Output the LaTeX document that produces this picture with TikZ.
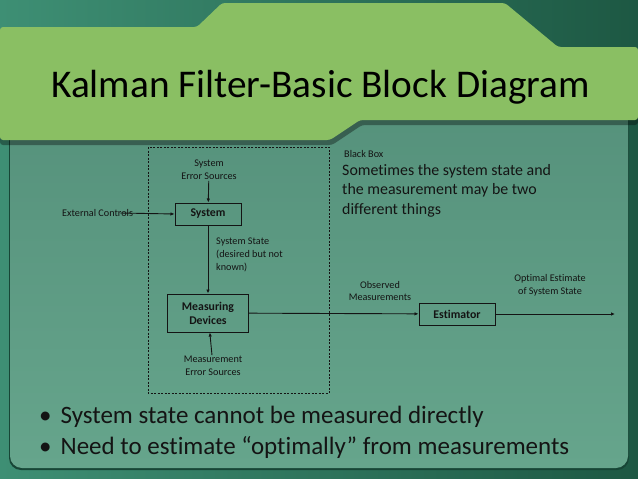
\documentclass[tikz,border=0pt]{standalone}
\usepackage{fontspec}
\setmainfont{Carlito}[Ligatures={NoCommon}]
\usetikzlibrary{arrows.meta}

\definecolor{outergreen}{HTML}{1D5843}
\definecolor{topteal}{HTML}{3E8F74}
\definecolor{panellight}{HTML}{66A58C}
\definecolor{paneldark}{HTML}{55917B}
\definecolor{bannergreen}{HTML}{8ABF63}
\definecolor{inkdark}{HTML}{141414}

\tikzset{
    block/.style={draw=inkdark, line width=1pt, inner sep=0pt, align=center,
        font=\fontsize{11.8}{14}\selectfont\bfseries, text=inkdark},
    smalltext/.style={font=\fontsize{10.2}{12.8}\selectfont, text=inkdark, inner sep=1pt},
    bodytext/.style={font=\fontsize{15.9}{19.5}\selectfont, text=inkdark, inner sep=0pt, align=left},
    pointtext/.style={font=\fontsize{25}{30}\selectfont, text=inkdark, inner sep=0pt},
    flow/.style={draw=inkdark, line width=0.9pt, -{Latex[length=4pt,width=3.5pt]}},
}

\begin{document}
\begin{tikzpicture}[x=1pt, y=-1pt]
    \useasboundingbox (0,0) rectangle (638,479);

    % Background and panel
    \shade[left color=topteal, right color=outergreen] (0,0) rectangle (638,479);
    \fill[outergreen!80!black, rounded corners=12pt] (9,100) rectangle (629,470);
    \shade[top color=paneldark, bottom color=panellight, rounded corners=12pt] (10,100) rectangle (628,468);

    % Title banner
    \fill[black, opacity=0.35, rounded corners=3pt] (0,31) -- (197,31) -- (222,7) -- (505,7) -- (558,51)
        -- (638,51) -- (638,125) -- (362,125) -- (332,145) -- (0,145) -- cycle;
    \fill[bannergreen, rounded corners=3pt] (0,27) -- (197,27) -- (222,3) -- (505,3) -- (558,47)
        -- (638,47) -- (638,120) -- (360,120) -- (330,140) -- (0,140) -- cycle;
    \node[anchor=base west, inner sep=0pt, font=\fontsize{39.3}{44}\selectfont, text=black] (title) at (51,97)
        {Kalman Filter-Basic Block Diagram};

    % Black box
    \draw[inkdark, line width=0.7pt, dash pattern=on 2pt off 1.5pt] (148,147) rectangle (329,393);
    \node[smalltext, anchor=west] (blackbox) at (343,154) {Black Box};
    \node[bodytext, anchor=north west] (note) at (342,164)
        {Sometimes the system state and\\the measurement may be two\\different things};

    % Draw nodes
    \node[block, minimum width=66pt, minimum height=22pt] (system) at (208,214) {System};
    \node[block, minimum width=81pt, minimum height=38pt] (measure) at (208,313) {Measuring\\Devices};
    \node[block, minimum width=76pt, minimum height=22pt] (estimator) at (457,314) {Estimator};

    \node[smalltext, align=center] (syserr) at (209,170) {System\\Error Sources};
    \node[smalltext, anchor=west] (extctrl) at (61,213) {External Controls};
    \node[smalltext, anchor=north west, align=left] (sysstate) at (215,237) {System State\\(desired but not\\known)};
    \node[smalltext, align=center] (measerr) at (213,366) {Measurement\\Error Sources};
    \node[smalltext, align=center] (observed) at (380,291) {Observed\\Measurements};
    \node[smalltext, align=center] (optimal) at (550,285) {Optimal Estimate\\of System State};
    \coordinate (output) at (615,314);

    % Draw connections
    \draw[flow] (syserr) -- (system);
    \draw[flow] ([xshift=-14pt]extctrl.east) -- (system.west);
    \draw[flow] (system) -- (measure);
    \draw[flow] (measerr) -- (measure);
    \draw[flow] (measure) -- (estimator);
    \draw[flow] (estimator) -- (output);

    % Bullets
    \node[pointtext, anchor=base west] (point1) at (39,423)
        {\textbullet\hspace{9pt}System state cannot be measured directly};
    \node[pointtext, anchor=base west] (point2) at (39,454)
        {\textbullet\hspace{9pt}Need to estimate “optimally” from measurements};
\end{tikzpicture}
\end{document}
